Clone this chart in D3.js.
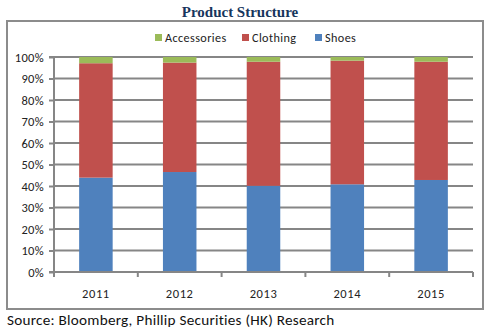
<!DOCTYPE html>
<html>
<head>
<meta charset="utf-8">
<script src="https://cdn.jsdelivr.net/npm/d3@7"></script>
<style>
  html, body { margin: 0; padding: 0; background: #fff; }
  svg { display: block; }
</style>
</head>
<body>
<svg id="chart" width="492" height="330"></svg>
<script>
// Product mix by year (share of revenue, %)
const years = ["2011", "2012", "2013", "2014", "2015"];
const shoes = [43.9, 46.5, 40.1, 40.8, 42.8];
const clothing = [53.2, 50.9, 57.7, 57.5, 55.0];
const accessories = [2.9, 2.6, 2.2, 1.7, 2.2];
const seriesNames = ["Shoes", "Clothing", "Accessories"];
const seriesColors = ["#4F81BD", "#C0504D", "#9BBB59"];
const yTicks = [0, 10, 20, 30, 40, 50, 60, 70, 80, 90, 100];

const rows = years.map((yr, i) => ({
  year: yr, Shoes: shoes[i], Clothing: clothing[i], Accessories: accessories[i]
}));

const svg = d3.select("#chart");
const font = "Calibri, Carlito, 'Open Sans', 'Liberation Sans', sans-serif";

// Frame around the chart
svg.append("rect")
  .attr("x", 7).attr("y", 21).attr("width", 476).attr("height", 288)
  .attr("fill", "#fff").attr("stroke", "#8c8c8c").attr("stroke-width", 2);

// Title
svg.append("text")
  .attr("x", 240).attr("y", 17)
  .attr("text-anchor", "middle")
  .attr("font-family", "'Liberation Serif', 'Times New Roman', serif")
  .attr("font-weight", "bold").attr("font-size", 15)
  .attr("fill", "#17365D")
  .text("Product Structure");

const plotLeft = 54, plotRight = 473, plotTop = 57, plotBottom = 272;

const x = d3.scaleBand().domain(years).range([plotLeft, plotRight]).paddingInner(0.6).paddingOuter(0.3);
const y = d3.scaleLinear().domain([0, 100]).range([plotBottom, plotTop]);

// Horizontal gridlines
svg.append("g")
  .selectAll("line")
  .data(yTicks.filter(t => t > 0))
  .join("line")
  .attr("x1", plotLeft).attr("x2", plotRight)
  .attr("y1", d => y(d)).attr("y2", d => y(d))
  .attr("stroke", "#868686").attr("stroke-width", 2);

// Stacked bars
const stack = d3.stack().keys(seriesNames);
const layers = stack(rows);
svg.append("g")
  .selectAll("g")
  .data(layers)
  .join("g")
  .attr("fill", (d, i) => seriesColors[i])
  .selectAll("rect")
  .data(d => d)
  .join("rect")
  .attr("x", d => x(d.data.year))
  .attr("width", x.bandwidth())
  .attr("y", d => y(d[1]))
  .attr("height", d => y(d[0]) - y(d[1]));

// Y axis
const yAxis = svg.append("g")
  .attr("transform", `translate(${plotLeft},0)`)
  .call(d3.axisLeft(y).tickValues(yTicks).tickFormat(d => d + "%").tickSize(5).tickPadding(5));
yAxis.selectAll("path, line").attr("stroke", "#868686").attr("stroke-width", 2);
yAxis.select(".domain").attr("d", `M-5,${plotTop}H0V${plotBottom}H-5`);
yAxis.selectAll("text")
  .attr("font-family", font).attr("font-size", 12.5)
  .attr("letter-spacing", 0.3).attr("fill", "#222");

// X axis with tick marks at category boundaries
const xAxis = svg.append("g").attr("transform", `translate(0,${plotBottom})`);
xAxis.append("line")
  .attr("x1", plotLeft).attr("x2", plotRight).attr("y1", 0).attr("y2", 0)
  .attr("stroke", "#868686").attr("stroke-width", 2);
const step = (plotRight - plotLeft) / years.length;
xAxis.selectAll("line.tick")
  .data(d3.range(years.length + 1))
  .join("line")
  .attr("class", "tick")
  .attr("x1", i => plotLeft + i * step).attr("x2", i => plotLeft + i * step)
  .attr("y1", 0).attr("y2", 5)
  .attr("stroke", "#868686").attr("stroke-width", 2);
xAxis.selectAll("text")
  .data(years)
  .join("text")
  .attr("x", d => x(d) + x.bandwidth() / 2)
  .attr("y", 26)
  .attr("text-anchor", "middle")
  .attr("font-family", font).attr("font-size", 12.5)
  .attr("letter-spacing", 0.6).attr("fill", "#222")
  .text(d => d);

// Legend
const legendItems = [
  { name: "Accessories", color: seriesColors[2], x: 155 },
  { name: "Clothing", color: seriesColors[1], x: 242 },
  { name: "Shoes", color: seriesColors[0], x: 315 }
];
const legend = svg.append("g").selectAll("g").data(legendItems).join("g")
  .attr("transform", d => `translate(${d.x},38)`);
legend.append("rect").attr("x", 0).attr("y", -4).attr("width", 7).attr("height", 7)
  .attr("fill", d => d.color);
legend.append("text").attr("x", 10).attr("y", 4)
  .attr("font-family", font).attr("font-size", 12.2)
  .attr("letter-spacing", 0.4).attr("fill", "#222")
  .text(d => d.name);

// Source line
svg.append("text")
  .attr("x", 7).attr("y", 325)
  .attr("font-family", font).attr("font-size", 15.2)
  .attr("letter-spacing", 0.25).attr("fill", "#111")
  .text("Source: Bloomberg, Phillip Securities (HK) Research");
</script>
</body>
</html>
